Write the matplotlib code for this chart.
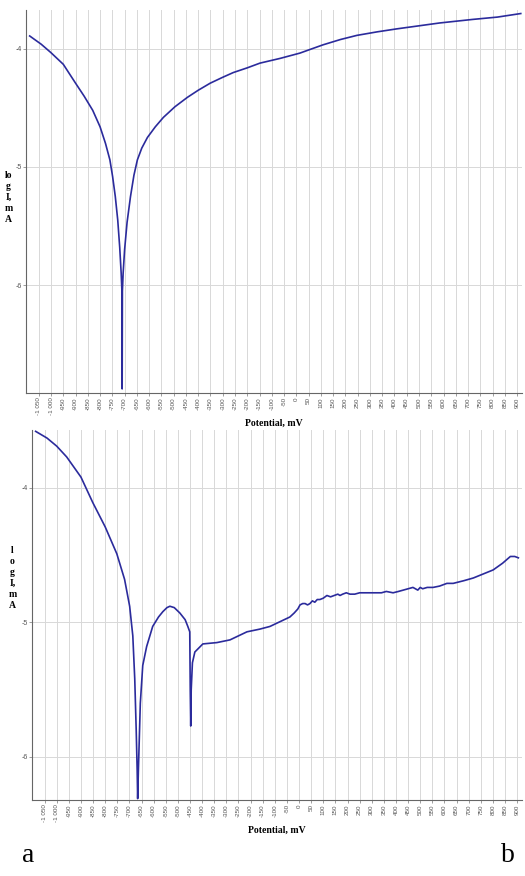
import matplotlib.pyplot as plt

# ----------------------------
# DATA
# ----------------------------
ticks_mv = list(range(-1050, 901, 50))
tick_labels = [f"{t:,}".replace(",", " ") for t in ticks_mv]

# panel a
a_mv = [-1087, -1040, -1001, -950, -900, -865, -830, -800, -778, -760, -749, -738, -728,
        -720, -714, -711, -710, -709, -706, -700, -690, -676, -662, -648, -630, -607,
        -575, -542, -495, -444, -400, -351, -300, -257, -200, -148, -66, 15, 55, 109, 180,
        247, 330, 409, 584, 718, 820, 915]
a_log = [-3.89, -3.96, -4.03, -4.13, -4.29, -4.40, -4.52, -4.66, -4.80, -4.94, -5.08, -5.25, -5.45,
         -5.68, -5.90, -6.05, -6.88, -6.05, -5.90, -5.70, -5.47, -5.25, -5.07, -4.94, -4.84, -4.75,
         -4.66, -4.58, -4.49, -4.41, -4.35, -4.29, -4.24, -4.20, -4.16, -4.12, -4.08, -4.035, -4.005,
         -3.965, -3.92, -3.885, -3.855, -3.83, -3.78, -3.75, -3.73, -3.70]

# panel b
b_mv = [-1087, -1040, -1000, -959, -900, -851, -800, -752, -720, -699, -686, -678, -672,
        -668, -666, -663, -655, -645, -629, -604, -580, -562, -545, -533, -515, -492, -470,
        -459, -451, -449, -447, -445, -440, -430, -397, -339, -285, -215, -162, -120, -38,
        -20, -5, 4, 15, 25, 35, 45, 55, 65, 75, 86, 100, 115, 130, 145, 160, 169, 180, 195,
        210, 230, 250, 270, 293, 320, 340, 360, 388, 410, 430, 450, 470, 490, 500, 510, 529,
        553, 580, 610, 636, 680, 719, 760, 801, 840, 872, 890, 905]
b_log = [-3.58, -3.63, -3.69, -3.77, -3.92, -4.11, -4.29, -4.49, -4.68, -4.88, -5.1, -5.42, -5.8,
         -6.1, -6.31, -6.1, -5.6, -5.32, -5.18, -5.03, -4.96, -4.92, -4.89, -4.88, -4.89, -4.93, -4.98,
         -5.03, -5.07, -5.5, -5.77, -5.5, -5.3, -5.22, -5.16, -5.15, -5.13, -5.07, -5.05, -5.03, -4.96,
         -4.93, -4.9, -4.87, -4.86, -4.86, -4.87, -4.86, -4.84, -4.85, -4.83, -4.83, -4.82, -4.80, -4.81,
         -4.80, -4.79, -4.80, -4.79, -4.78, -4.79, -4.79, -4.78, -4.78, -4.78, -4.78, -4.78, -4.77, -4.78,
         -4.77, -4.76, -4.75, -4.74, -4.76, -4.74, -4.75, -4.74, -4.74, -4.73, -4.71, -4.71, -4.69, -4.67,
         -4.64, -4.61, -4.56, -4.51, -4.51, -4.52]

y_ticks = [-6, -5, -4]

# ----------------------------
# FIGURE
# ----------------------------
W, H = 525, 876
fig = plt.figure(figsize=(W / 100, H / 100), dpi=100)

line_col = "#2b2b9c"
grid_col = "#d8d8d8"
serif = ["Liberation Serif", "DejaVu Serif"]


def make_panel(rect, mv, logi, ylim, ylab):
    l, t, r, b = rect
    ax = fig.add_axes([l / W, 1 - b / H, (r - l) / W, (b - t) / H])
    ax.plot(mv, logi, color=line_col, lw=1.2)
    ax.set_xlim(-1102, 920)
    ax.set_ylim(*ylim)
    ax.set_xticks(ticks_mv)
    ax.set_xticklabels(tick_labels, rotation=90, fontsize=4.5, color="#555555",
                       family="Liberation Sans")
    ax.set_yticks(y_ticks)
    ax.set_yticklabels([str(v) for v in y_ticks], fontsize=5, color="#555555",
                       family="Liberation Sans")
    ax.tick_params(length=2, width=0.5, color="#777777", pad=1)
    ax.grid(True, color=grid_col, lw=0.7)
    ax.set_axisbelow(True)
    for s in ["top", "right"]:
        ax.spines[s].set_visible(False)
    for s in ["left", "bottom"]:
        ax.spines[s].set_color("#666666")
        ax.spines[s].set_linewidth(0.8)
    ax.set_xlabel("Potential, mV", fontsize=7, fontweight="bold", family=serif, labelpad=3)
    ax.set_ylabel(ylab, fontsize=7, fontweight="bold", family=serif, rotation=0,
                  ha="center", va="center", linespacing=1.3)
    return ax


ax1 = make_panel((26, 10, 522, 393), a_mv, a_log, (-6.915, -3.67), "lo\ng\nI,\nm\nA")
ax1.yaxis.set_label_coords(-0.035, 0.51)

ax2 = make_panel((32, 430, 522, 800), b_mv, b_log, (-6.32, -3.57), "l\no\ng\nI,\nm\nA")
ax2.yaxis.set_label_coords(-0.04, 0.6)

fig.text(22 / W, 1 - 855 / H, "a", fontsize=20, family=serif, ha="left", va="center")
fig.text(515 / W, 1 - 855 / H, "b", fontsize=20, family=serif, ha="right", va="center")

fig.savefig("out.png", dpi=100)
